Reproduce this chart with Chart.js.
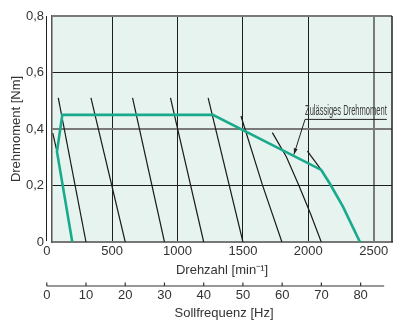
<!DOCTYPE html>
<html>
<head>
<meta charset="utf-8">
<script src="https://cdn.jsdelivr.net/npm/chart.js@4.4.1/dist/chart.umd.min.js"></script>
<style>
  html, body { margin: 0; padding: 0; background: #fff; }
</style>
</head>
<body>
<canvas id="drehmomentChart" width="394" height="322"></canvas>
<script>
// Achsen
let drehzahlTicks = [0, 500, 1000, 1500, 2000, 2500];
let drehmomentTicks = [0, 0.2, 0.4, 0.6, 0.8];
let frequenzTicks = [0, 10, 20, 30, 40, 50, 60, 70, 80];

// zulässiges Drehmoment (grüne Kurve)
let zulDrehzahl = [195, 78, 119, 1270, 2099, 2163, 2264, 2395];
let zulMoment = [0, 0.32, 0.45, 0.45, 0.255, 0.208, 0.126, 0];

// Kennlinien der einzelnen Sollfrequenzen
let kennDrehzahl = [
    [46, 78],
    [88, 300],
    [338, 600],
    [656, 900],
    [946, 1200],
    [1234, 1500],
    [1485, 1649, 1798],
    [1725, 1832, 1928, 2017, 2099],
    [1993, 2099]
];
let kennMoment = [
    [0.385, 0.32],
    [0.51, 0],
    [0.51, 0],
    [0.51, 0],
    [0.51, 0],
    [0.51, 0],
    [0.446, 0.202, 0],
    [0.387, 0.302, 0.2, 0.1, 0],
    [0.322, 0.255]
];

const HZ_TO_RPM = 30;
const FONT = '"Liberation Sans Narrow", "Liberation Sans", sans-serif';
const TEXT = '#333';

function toPoints(xs, ys) {
    return xs.map((x, i) => ({ x: x, y: ys[i] }));
}

let datasets = [{
    data: toPoints(zulDrehzahl, zulMoment),
    borderColor: '#19aa8c',
    borderWidth: 2.6,
    order: 0
}];
for (let i = 0; i < kennDrehzahl.length; i++) {
    datasets.push({
        data: toPoints(kennDrehzahl[i], kennMoment[i]),
        borderColor: '#1a1a1a',
        borderWidth: 1.2,
        order: 1
    });
}
datasets.forEach(d => { d.showLine = true; d.pointRadius = 0; d.tension = 0; });

const background = {
    id: 'background',
    beforeDraw(chart) {
        const { ctx, chartArea: a } = chart;
        ctx.save();
        ctx.fillStyle = '#e6f3ee';
        ctx.fillRect(a.left, a.top, a.right - a.left, a.bottom - a.top);
        ctx.restore();
    }
};

const extras = {
    id: 'extras',
    afterDraw(chart) {
        const { ctx, chartArea: a } = chart;
        const xs = chart.scales.x, ys = chart.scales.y;
        ctx.save();
        // Rahmen oben / rechts
        ctx.strokeStyle = '#7a7a7a';
        ctx.lineWidth = 2;
        ctx.beginPath();
        ctx.moveTo(a.left, a.top);
        ctx.lineTo(a.right, a.top);
        ctx.stroke();
        ctx.strokeStyle = '#222';
        ctx.lineWidth = 1.5;
        ctx.beginPath();
        ctx.moveTo(a.right, a.top);
        ctx.lineTo(a.right, a.bottom);
        ctx.stroke();

        // Sollfrequenz-Achse
        const yLine = a.bottom + 44;
        ctx.strokeStyle = '#333';
        ctx.lineWidth = 1.2;
        ctx.beginPath();
        ctx.moveTo(xs.getPixelForValue(0), yLine);
        ctx.lineTo(xs.getPixelForValue(86 * HZ_TO_RPM), yLine);
        ctx.stroke();
        ctx.fillStyle = TEXT;
        ctx.font = '13px ' + FONT;
        ctx.textAlign = 'center';
        ctx.textBaseline = 'middle';
        frequenzTicks.forEach(f => {
            const px = xs.getPixelForValue(f * HZ_TO_RPM);
            ctx.beginPath();
            ctx.moveTo(px, yLine);
            ctx.lineTo(px, yLine - 3.5);
            ctx.stroke();
            ctx.fillText(String(f), px, yLine + 9.5);
        });
        ctx.fillText('Sollfrequenz [Hz]', (a.left + a.right) / 2 + 2, yLine + 27);

        // Beschriftung "Zulässiges Drehmoment"
        const label = 'Zulässiges Drehmoment';
        const lx0 = xs.getPixelForValue(1975), lx1 = xs.getPixelForValue(2600);
        const ly = ys.getPixelForValue(0.434);
        ctx.font = '14px ' + FONT;
        const w = ctx.measureText(label).width;
        ctx.save();
        ctx.translate(lx0, ly - 4.5);
        ctx.scale((lx1 - lx0) / w, 1);
        ctx.textAlign = 'left';
        ctx.textBaseline = 'alphabetic';
        ctx.fillStyle = '#3a3a3a';
        ctx.fillText(label, 0, 0);
        ctx.restore();
        ctx.strokeStyle = '#222';
        ctx.lineWidth = 1;
        ctx.beginPath();
        ctx.moveTo(lx1, ly);
        ctx.lineTo(lx0, ly);
        const tx = xs.getPixelForValue(1890), ty = ys.getPixelForValue(0.31);
        ctx.lineTo(tx, ty);
        ctx.stroke();
        const dx = tx - lx0, dy = ty - ly, len = Math.hypot(dx, dy);
        const ux = dx / len, uy = dy / len;
        ctx.fillStyle = '#222';
        ctx.beginPath();
        ctx.moveTo(tx, ty);
        ctx.lineTo(tx - ux * 6 - uy * 2, ty - uy * 6 + ux * 2);
        ctx.lineTo(tx - ux * 6 + uy * 2, ty - uy * 6 - ux * 2);
        ctx.closePath();
        ctx.fill();
        ctx.restore();
    }
};

function gridColor(ctx, special) {
    return ctx.tick && ctx.tick.value === special ? '#7a7a7a' : '#1e1e1e';
}
function gridWidth(ctx, special) {
    return ctx.tick && ctx.tick.value === special ? 2 : 1;
}

window.onload = function () {
    const ctx = document.getElementById('drehmomentChart').getContext('2d');
    window.myChart = new Chart(ctx, {
        type: 'scatter',
        data: { datasets: datasets },
        options: {
            responsive: false,
            animation: false,
            layout: { padding: { top: 16, right: 2, left: 0, bottom: 0 } },
            plugins: { legend: { display: false }, tooltip: { enabled: false } },
            scales: {
                x: {
                    type: 'linear',
                    min: 40,
                    max: 2640,
                    afterBuildTicks: s => { s.ticks = drehzahlTicks.map(v => ({ value: v })); },
                    afterFit: s => { s.height = 80; },
                    grid: {
                        drawTicks: false,
                        color: c => gridColor(c, 2500),
                        lineWidth: c => gridWidth(c, 2500)
                    },
                    border: { color: '#777', width: 2 },
                    ticks: {
                        padding: 2,
                        color: TEXT,
                        autoSkip: false,
                        maxRotation: 0,
                        font: { family: FONT, size: 13 },
                        callback: v => String(v)
                    },
                    title: {
                        display: true,
                        text: 'Drehzahl [min⁻¹]',
                        color: TEXT,
                        font: { family: FONT, size: 13, lineHeight: 1.2 },
                        padding: { top: 0, bottom: 44 }
                    }
                },
                y: {
                    type: 'linear',
                    min: 0,
                    max: 0.8,
                    afterBuildTicks: s => { s.ticks = drehmomentTicks.map(v => ({ value: v })); },
                    afterFit: s => { s.width = 52; },
                    grid: {
                        drawTicks: false,
                        color: c => c.tick && (c.tick.value === 0.4 || c.tick.value === 0.8 || c.tick.value === 0) ? '#7a7a7a' : '#1e1e1e',
                        lineWidth: c => gridWidth(c, 0.4)
                    },
                    border: { color: '#555', width: 1.5 },
                    ticks: {
                        padding: 8,
                        color: TEXT,
                        autoSkip: false,
                        font: { family: FONT, size: 13 },
                        callback: v => v === 0 ? '0' : v.toFixed(1).replace('.', ',')
                    },
                    title: {
                        display: true,
                        text: 'Drehmoment [Nm]',
                        color: TEXT,
                        font: { family: FONT, size: 13, lineHeight: 1.2 },
                        padding: { top: 9, bottom: 0 }
                    }
                }
            }
        },
        plugins: [background, extras]
    });
};
</script>
</body>
</html>
